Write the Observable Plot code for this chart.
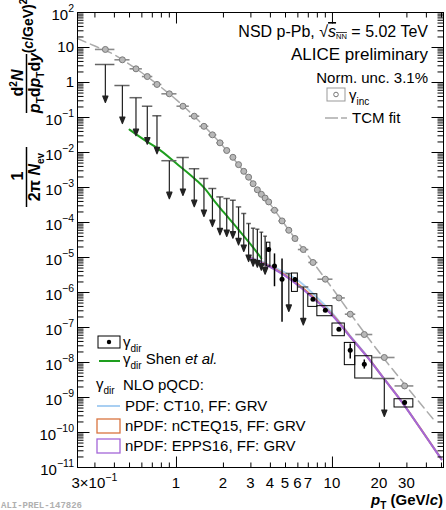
<!DOCTYPE html>
<html>
<head>
<meta charset="utf-8">
<script src="https://cdn.jsdelivr.net/npm/d3@7"></script>
<script src="https://cdn.jsdelivr.net/npm/@observablehq/plot@0.6"></script>
<style>
html,body{margin:0;padding:0;background:#fff;}
#chart svg{display:block;}
</style>
</head>
<body>
<div id="chart"></div>
<script>
// ---------------- data ----------------
// pT bins (GeV/c)
const binCenter = [0.35,0.45,0.55,0.65,0.75,0.9,1.1,1.3,1.5,1.7,1.9,2.1,2.3,2.5,2.7,2.9,3.1,3.3,3.5,3.7,3.9,4.25,4.75,5.25,5.75,6.5,7.5,9,11,13,16,21.5,29];
const binLo = [0.3,0.4,0.5,0.6,0.7,0.8,1.0,1.2,1.4,1.6,1.8,2.0,2.2,2.4,2.6,2.8,3.0,3.2,3.4,3.6,3.8,4.0,4.5,5.0,5.5,6.0,7.0,8.0,10,12,14,18,25];
const binHi = [0.4,0.5,0.6,0.7,0.8,1.0,1.2,1.4,1.6,1.8,2.0,2.2,2.4,2.6,2.8,3.0,3.2,3.4,3.6,3.8,4.0,4.5,5.0,5.5,6.0,7.0,8.0,10,12,14,18,25,33];
// inclusive photons
const incVal = [8.8,4.45,2.46,1.48,0.88,0.475,0.21,0.109,0.056,0.032,0.0189,0.0114,0.0073,0.0045,0.0029,0.00197,0.00128,0.00086,0.00064,0.0005,0.000388,0.000224,0.000111,0.00006,0.0000349,0.0000169,0.0000072,0.0000024,0.0000007,0.00000024,0.000000063,0.0000000139,0.00000000214];
// TCM fit
const tcmPt  = [0.232,0.3,0.4,0.5,0.6,0.8,1,1.4,2,3,4,5,7,10,15,20,30,45];
const tcmVal = [18,11,6.2,3.3,1.9,0.72,0.32,0.078,0.0147,0.0016,0.00033,0.000082,0.000011,0.0000013,0.000000105,0.000000019,0.000000002,0.00000000022];
// direct photon upper limits
const ulPt  = [0.35,0.45,0.55,0.65,0.75,0.9,1.1,1.3,1.5,1.7,1.9,2.1,2.3,2.5,2.7,2.9,3.1,3.3,3.5,3.7,5.25,6.5,21.5];
const ulVal = [3.27,0.82,0.368,0.21,0.112,0.00583,0.0072,0.00344,0.00181,0.000936,0.000539,0.000485,0.000433,0.000279,0.000181,0.0000936,0.0000687,0.0000644,0.0000528,0.0000406,0.0000035,0.00000144,0.00000000349];
// direct photon points
const dirPt     = [3.9,4.25,4.75,5.75,7.5,9,11,13,16,29];
const dirVal    = [1.69e-5,5.75e-6,2.4e-6,2.35e-6,6.44e-7,3.12e-7,8.93e-8,2.24e-8,8.93e-9,7.2e-10];
const dirSysLo  = [5.5e-6,null,null,1.04e-6,3.88e-7,2.1e-7,5.64e-8,8.4e-9,3.49e-9,5.18e-10];
const dirSysHi  = [2.65e-5,null,null,3.49e-6,8.93e-7,4.07e-7,1.3e-7,3.63e-8,1.51e-8,8.93e-10];
const dirStatLo = [1.45e-5,1.51e-6,1.45e-7,2.0e-6,6.0e-7,2.9e-7,8.0e-8,1.3e-8,6.7e-9,6.0e-10];
const dirStatHi = [1.93e-5,1.31e-5,9.36e-6,2.7e-6,6.9e-7,3.35e-7,9.9e-8,3.49e-8,1.22e-8,8.4e-10];
// Shen et al.
const shenPt  = [0.5,0.65,0.75,1.0,1.34,1.5,1.8,2.0,2.5,3.0,3.5];
const shenVal = [0.045,0.0201,0.0135,0.00485,0.00162,0.00099,0.00035,0.0002,0.000062,0.0000232,0.0000095];
// NLO pQCD
const nloPt      = [3.0,3.8,4.9,6.2,8.0,10.2,13,16.7,21.3,27.3,36.6,50];
const nloCT10    = [1.0e-5,6.6e-6,3.8e-6,2.0e-6,7.0e-7,2.3e-7,5.8e-8,1.5e-8,3.6e-9,8.6e-10,1.32e-10,1.75e-11];
const nloNCTEQ15 = [9.6e-6,6.2e-6,3.3e-6,1.55e-6,5.7e-7,2.1e-7,5.5e-8,1.46e-8,3.55e-9,8.5e-10,1.31e-10,1.72e-11];
const nloEPPS16  = [9.4e-6,6.0e-6,3.12e-6,1.44e-6,5.4e-7,2.0e-7,5.4e-8,1.44e-8,3.5e-9,8.4e-10,1.3e-10,1.7e-11];
// ticks
const yMajorExp = [-11,-10,-9,-8,-7,-6,-5,-4,-3,-2,-1,0,1,2];
const xMajor = [1, 10];
const xMinor = [0.3,0.4,0.5,0.6,0.7,0.8,0.9,2,3,4,5,6,7,8,9,20,30,40,50];
const xLabels = [[0.3,"3×10","−1"],[1,"1"],[2,"2"],[3,"3"],[4,"4"],[5,"5"],[6,"6"],[7,"7"],[10,"10"],[20,"20"],[30,"30"]];

// ---------------- build ----------------
const FONT = "'Liberation Sans', Arial, Helvetica, sans-serif";
const rowsInc = binCenter.map((x, i) => ({x, lo: binLo[i], hi: binHi[i], y: incVal[i]}));
const rowsUL = ulPt.map((x, i) => { const k = binCenter.indexOf(x); return {x, lo: binLo[k], hi: binHi[k], y: ulVal[i]}; });
const rowsDir = dirPt.map((x, i) => { const k = binCenter.indexOf(x); return {x, lo: binLo[k], hi: binHi[k], y: dirVal[i], s1: dirSysLo[i], s2: dirSysHi[i], e1: dirStatLo[i], e2: dirStatHi[i]}; });
const rowsSys = rowsDir.filter(d => d.s1 != null);
const rowsNLO = nloPt.map((x, i) => ({x, ct10: nloCT10[i], ncteq: nloNCTEQ15[i], epps: nloEPPS16[i]}));
const rowsShen = shenPt.map((x, i) => ({x, y: shenVal[i]}));
const rowsTCM = tcmPt.map((x, i) => ({x, y: tcmVal[i]}));
const yMajor = yMajorExp.map(e => Math.pow(10, e));
const yMinor = [];
for (let e = -11; e <= 1; e++) for (let m = 2; m <= 9; m++) yMinor.push(m * Math.pow(10, e));

const lineShape = {draw(ctx, l) { ctx.moveTo(0, 0); ctx.lineTo(0, -l); }};
const arrowShape = {draw(ctx, l) {
  ctx.moveTo(0, 0); ctx.lineTo(0, -l + 5);
  ctx.moveTo(-2.6, -l + 6.5); ctx.lineTo(0, -l); ctx.lineTo(2.6, -l + 6.5); ctx.closePath();
}};
const tick = (data, ch, anchor, rotate, len) => Plot.vector(data, {[ch]: d => d, frameAnchor: anchor, rotate, length: len, anchor: "start", shape: lineShape, stroke: "black", strokeWidth: 1, strokeLinecap: "butt"});

const plot = Plot.plot({
  width: 446, height: 510,
  marginLeft: 77, marginRight: 3, marginTop: 12, marginBottom: 43,
  x: {type: "log", domain: [0.232, 51.5], axis: null},
  y: {type: "log", domain: [1e-11, 1e2], axis: null},
  style: {background: "white", fontFamily: FONT},
  marks: [
    Plot.line(rowsNLO, {x: "x", y: "ct10", stroke: "#a9cff2", strokeWidth: 2, curve: "monotone-x"}),
    Plot.line(rowsNLO, {x: "x", y: "ncteq", stroke: "#e0814a", strokeWidth: 2, curve: "monotone-x"}),
    Plot.line(rowsNLO, {x: "x", y: "epps", stroke: "#a466d8", strokeWidth: 2, curve: "monotone-x"}),
    Plot.line(rowsTCM, {x: "x", y: "y", stroke: "#ababab", strokeWidth: 1.5, strokeDasharray: "9,5", curve: "monotone-x"}),
    Plot.link(rowsInc, {x1: "lo", x2: "hi", y1: "y", y2: "y", stroke: "#8c8c8c", strokeWidth: 1.6}),
    Plot.dot(rowsInc, {x: "x", y: "y", r: 3, fill: "#b8b8b8", stroke: "#7a7a7a", strokeWidth: 1}),
    Plot.line(rowsShen, {x: "x", y: "y", stroke: "#1e9e1e", strokeWidth: 2, curve: "monotone-x"}),
    Plot.link(rowsUL, {x1: "lo", x2: "hi", y1: "y", y2: "y", stroke: "#666", strokeWidth: 1.5}),
    Plot.vector(rowsUL, {x: "x", y: "y", length: 38, rotate: 180, anchor: "start", shape: arrowShape, stroke: "#222", fill: "#222", strokeWidth: 1.2, strokeLinecap: "butt"}),
    Plot.rect(rowsSys, {x1: "lo", x2: "hi", y1: "s1", y2: "s2", fill: "none", stroke: "black", strokeWidth: 1}),
    Plot.link(rowsDir, {x1: "x", x2: "x", y1: "e1", y2: "e2", stroke: "black", strokeWidth: 1.5}),
    Plot.dot(rowsDir, {x: "x", y: "y", r: 2.5, fill: "black"}),
    Plot.frame({stroke: "black", strokeWidth: 1}),
    tick(yMajor, "y", "left", 90, 12),
    tick(yMinor, "y", "left", 90, 6),
    tick(yMajor, "y", "right", -90, 12),
    tick(yMinor, "y", "right", -90, 6),
    tick(xMajor, "x", "bottom", 0, 11),
    tick(xMinor, "x", "bottom", 0, 5),
    tick(xMajor, "x", "top", 180, 11),
    tick(xMinor, "x", "top", 180, 5)
  ]
});
document.getElementById("chart").appendChild(plot);

// ---------------- text ----------------
const svg = d3.select(plot);
const xs = plot.scale("x"), ys = plot.scale("y");
const T = svg.append("g").attr("font-family", FONT).attr("fill", "black").attr("text-anchor", "start");

// y tick labels
yMajorExp.forEach(e => {
  const y = ys.apply(Math.pow(10, e));
  const t = T.append("text").attr("x", 74).attr("text-anchor", "end").attr("font-size", 15);
  if (e === 0) t.attr("y", y + 5.3).text("1");
  else if (e === 1) t.attr("y", y + 5.3).text("10");
  else {
    t.attr("y", y + 7.5);
    t.append("tspan").text("10");
    t.append("tspan").attr("dy", -7.5).attr("font-size", 10.5).text(e < 0 ? "−" + (-e) : String(e));
  }
});
// x tick labels
xLabels.forEach(([v, base, exp]) => {
  const t = T.append("text").attr("x", xs.apply(v)).attr("y", 487.5).attr("text-anchor", "middle").attr("font-size", 15);
  t.append("tspan").text(base);
  if (exp) t.append("tspan").attr("dy", -7).attr("font-size", 10.5).text(exp);
});
// x title
{
  const t = T.append("text").attr("x", 443).attr("y", 505).attr("text-anchor", "end").attr("font-size", 15).attr("font-weight", "bold");
  t.append("tspan").attr("font-style", "italic").text("p");
  t.append("tspan").attr("dy", 3.5).attr("font-size", 10).text("T");
  t.append("tspan").attr("dy", -3.5).text(" (GeV/");
  t.append("tspan").attr("font-style", "italic").text("c");
  t.append("tspan").text(")");
}
// y title (rotated, each piece placed in screen coordinates)
{
  const rot = (sx, sy, size) => T.append("text")
    .attr("transform", `translate(${sx},${sy}) rotate(-90)`)
    .attr("x", 0).attr("y", 0)
    .attr("text-anchor", "middle").attr("font-weight", "bold").attr("font-size", size);
  const a = rot(33, 26, 14);
  a.append("tspan").text("(");
  a.append("tspan").attr("font-style", "italic").text("c");
  a.append("tspan").text("/GeV)");
  a.append("tspan").attr("dy", -6).attr("font-size", 10).text("2");
  const n1 = rot(23, 83, 16);
  n1.append("tspan").text("d");
  n1.append("tspan").attr("dy", -6).attr("font-size", 10).text("2");
  n1.append("tspan").attr("dy", 6).attr("font-style", "italic").text("N");
  T.append("line").attr("x1", 26.5).attr("x2", 26.5).attr("y1", 54).attr("y2", 113).attr("stroke", "black").attr("stroke-width", 1.5);
  const d1 = rot(40, 83, 16);
  d1.append("tspan").attr("font-style", "italic").text("p");
  d1.append("tspan").attr("dy", 3.5).attr("font-size", 10).text("T");
  d1.append("tspan").attr("dy", -3.5).text("d");
  d1.append("tspan").attr("font-style", "italic").text("p");
  d1.append("tspan").attr("dy", 3.5).attr("font-size", 10).text("T");
  d1.append("tspan").attr("dy", -3.5).text("d");
  d1.append("tspan").attr("font-style", "italic").text("y");
  rot(23, 176, 16).text("1");
  T.append("line").attr("x1", 26.5).attr("x2", 26.5).attr("y1", 147).attr("y2", 207).attr("stroke", "black").attr("stroke-width", 1.5);
  const d2 = rot(40, 177, 16);
  d2.append("tspan").text("2π ");
  d2.append("tspan").attr("font-style", "italic").text("N");
  d2.append("tspan").attr("dy", 3.5).attr("font-size", 10).text("ev");
}
// top-right annotation
{
  const t1 = T.append("text").attr("x", 428).attr("y", 37).attr("text-anchor", "end").attr("font-size", 16);
  t1.append("tspan").text("NSD p-Pb, √");
  t1.append("tspan").attr("font-style", "italic").attr("text-decoration", "overline").text("s");
  t1.append("tspan").attr("dy", 2).attr("font-size", 7.5).attr("text-decoration", "overline").text("NN");
  t1.append("tspan").attr("dy", -2).text(" = 5.02 TeV");
  T.append("text").attr("x", 428).attr("y", 60).attr("text-anchor", "end").attr("font-size", 17).text("ALICE preliminary");
  T.append("text").attr("x", 428).attr("y", 83).attr("text-anchor", "end").attr("font-size", 15).text("Norm. unc. 3.1%");
  T.append("rect").attr("x", 327).attr("y", 88).attr("width", 18).attr("height", 13).attr("fill", "none").attr("stroke", "#999");
  T.append("circle").attr("cx", 336).attr("cy", 94.5).attr("r", 2.3).attr("fill", "none").attr("stroke", "#777");
  const gi = T.append("text").attr("x", 349).attr("y", 100).attr("font-size", 15);
  gi.append("tspan").text("γ");
  gi.append("tspan").attr("dy", 5).attr("font-size", 10).text("inc");
  T.append("line").attr("x1", 325).attr("x2", 347).attr("y1", 118).attr("y2", 118).attr("stroke", "#aaa").attr("stroke-width", 1.5).attr("stroke-dasharray", "13,3");
  T.append("text").attr("x", 352).attr("y", 123).attr("font-size", 15).text("TCM fit");
}
// bottom-left legend
{
  const gam = (x, y, sub) => {
    const t = T.append("text").attr("x", x).attr("y", y).attr("font-size", 15);
    t.append("tspan").text("γ");
    t.append("tspan").attr("dy", 5).attr("font-size", 10).text(sub);
    return t;
  };
  T.append("rect").attr("x", 98).attr("y", 336).attr("width", 22).attr("height", 12).attr("fill", "none").attr("stroke", "black");
  T.append("circle").attr("cx", 109).attr("cy", 342).attr("r", 2.2).attr("fill", "black");
  gam(123, 347, "dir");
  T.append("line").attr("x1", 99).attr("x2", 120).attr("y1", 361).attr("y2", 361).attr("stroke", "#1e9e1e").attr("stroke-width", 2);
  const s = gam(123, 364, "dir");
  s.append("tspan").attr("dy", -5).text(" Shen ");
  s.append("tspan").attr("font-style", "italic").text("et al.");
  gam(96, 389, "dir");
  T.append("text").attr("x", 123).attr("y", 390).attr("font-size", 15).text("NLO pQCD:");
  T.append("line").attr("x1", 97).attr("x2", 120).attr("y1", 406).attr("y2", 406).attr("stroke", "#a9cff2").attr("stroke-width", 2);
  T.append("text").attr("x", 125).attr("y", 411).attr("font-size", 15).text("PDF: CT10, FF: GRV");
  T.append("rect").attr("x", 97).attr("y", 419).attr("width", 23).attr("height", 14).attr("fill", "none").attr("stroke", "#d9743f").attr("stroke-width", 1.3);
  T.append("text").attr("x", 125).attr("y", 431).attr("font-size", 15).text("nPDF: nCTEQ15, FF: GRV");
  T.append("rect").attr("x", 97).attr("y", 439).attr("width", 23).attr("height", 14).attr("fill", "none").attr("stroke", "#a466d8").attr("stroke-width", 1.3);
  T.append("text").attr("x", 125).attr("y", 451).attr("font-size", 15).text("nPDF: EPPS16, FF: GRV");
}
// watermark
T.append("text").attr("x", 1).attr("y", 508).attr("font-family", "'Liberation Mono', 'DejaVu Sans Mono', monospace").attr("font-size", 9).attr("font-weight", "bold").attr("fill", "#b0b0b0").text("ALI-PREL-147826");
</script>
</body>
</html>
